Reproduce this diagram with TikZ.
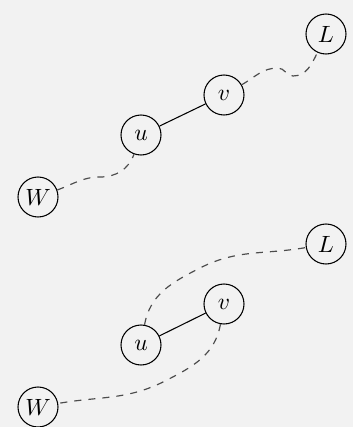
\documentclass[tikz,border=0pt]{standalone}
\begin{document}
\begin{tikzpicture}[x=0.425pt,y=-0.425pt,
  vtx/.style={draw,circle,minimum size=17pt,inner sep=0pt,line width=0.45pt},
  edge/.style={line width=0.45pt},
  path/.style={dashed,draw=black!70,line width=0.5pt}]
\fill[black!5] (0,0) rectangle (353,427);
\useasboundingbox (0,0) rectangle (353,427);
% top
\node[vtx] (L1) at (326,34) {$L$};
\node[vtx] (v1) at (224,95) {$v$};
\node[vtx] (u1) at (141,135) {$u$};
\node[vtx] (W1) at (38,197) {$W$};
\coordinate (a1) at (100,177);
\coordinate (b1) at (278,68);
\coordinate (c1) at (293,76);
\draw[edge] (u1) -- (v1);
\draw[path] (W1) to[out=20,in=180] (a1) to[out=0,in=-110] (u1);
\draw[path] (v1) to[out=30,in=180] (b1) to[out=0,in=180] (c1) to[out=0,in=-115] (L1);
% bottom
\node[vtx] (L2) at (326,244) {$L$};
\node[vtx] (v2) at (224,304) {$v$};
\node[vtx] (u2) at (141,345) {$u$};
\node[vtx] (W2) at (38,407) {$W$};
\coordinate (m1) at (200,268);
\coordinate (m2) at (165,381);
\draw[edge] (u2) -- (v2);
\draw[path] (u2) to[out=80,in=207] (m1) to[out=27,in=190] (L2);
\draw[path] (v2) to[out=-100,in=27] (m2) to[out=207,in=10] (W2);
\end{tikzpicture}
\end{document}
